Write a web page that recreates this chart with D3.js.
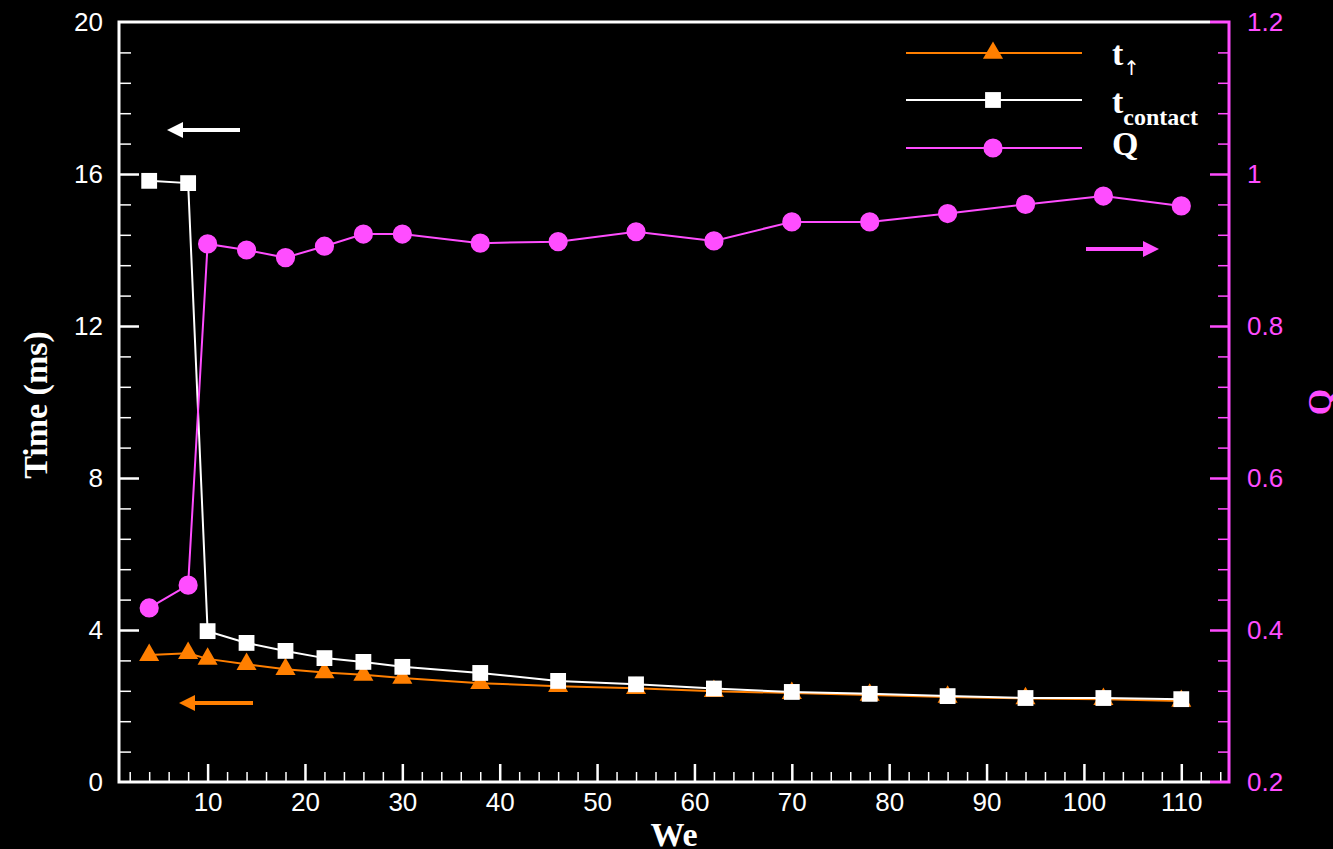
<!DOCTYPE html>
<head>
<meta charset="utf-8">
<style>
body { margin: 0; background: #000; }
.axis text { font-family: "Liberation Sans", Arial, sans-serif; font-size: 26px; }
.title { font-family: "Liberation Serif", "Times New Roman", serif; font-weight: bold; }
</style>
<script src="https://d3js.org/d3.v7.min.js"></script>
</head>
<body>
<svg class="chart" width="1333" height="849"></svg>
<script>

// Data.
var weValues = [4, 8, 10, 14, 18, 22, 26, 30, 38, 46, 54, 62, 70, 78, 86, 94, 102, 110];
var tUp = [3.34, 3.39, 3.24, 3.10, 2.97, 2.88, 2.82, 2.74, 2.60, 2.52, 2.47, 2.39, 2.34, 2.29, 2.24, 2.20, 2.18, 2.13];
var tContact = [15.82, 15.76, 3.97, 3.66, 3.45, 3.26, 3.16, 3.03, 2.87, 2.66, 2.57, 2.46, 2.37, 2.32, 2.26, 2.21, 2.21, 2.18];
var qValues = [0.429, 0.459, 0.908, 0.900, 0.890, 0.905, 0.921, 0.921, 0.909, 0.911, 0.924, 0.912, 0.937, 0.937, 0.948, 0.960, 0.971, 0.958];

var xTicks = [10, 20, 30, 40, 50, 60, 70, 80, 90, 100, 110];
var timeTicks = [0, 4, 8, 12, 16, 20];
var qTicks = [0.2, 0.4, 0.6, 0.8, 1, 1.2];
var qTickLabels = ["0.2", "0.4", "0.6", "0.8", "1", "1.2"];

/**
 * Draw the whole chart.
 */
function drawChart() {
  var orange = "#ff7f00", pink = "#ff4dff", white = "#ffffff";

  var svg = d3.select(".chart");
  var mLeft = 119, mRight = 1229, mTop = 22, mBottom = 782;

  var x = d3.scaleLinear().domain([0.9, 114.9]).range([mLeft, mRight]);
  var yT = d3.scaleLinear().domain([0, 20]).range([mBottom, mTop]);
  var yQ = d3.scaleLinear().domain([0.2, 1.2]).range([mBottom, mTop]);

  svg.append("rect").attr("width", 1333).attr("height", 849).attr("fill", "#000");

  // minor ticks, no labels
  function minor(axis, values, size, color) {
    return function(g) {
      g.call(axis.tickValues(values).tickSize(size).tickFormat(""));
      g.select(".domain").remove();
      g.selectAll(".tick line").attr("stroke", color).attr("stroke-width", 1.5);
    };
  }

  var xMinor = d3.range(2, 115, 2).filter(function(v) { return v % 10 != 0; });
  var tMinor = d3.range(0, 20.01, 0.8).filter(function(v) { return Math.abs(v / 4 - Math.round(v / 4)) > 1e-6; });
  var qMinor = d3.range(0.2, 1.2001, 0.04).filter(function(v) { return Math.abs(v / 0.2 - Math.round(v / 0.2)) > 1e-6; });

  svg.append("g").attr("transform", "translate(0," + mBottom + ")")
    .call(minor(d3.axisBottom(x), xMinor, -10, white));
  svg.append("g").attr("transform", "translate(" + mLeft + ",0)")
    .call(minor(d3.axisLeft(yT), tMinor, -12, white));
  svg.append("g").attr("transform", "translate(" + mRight + ",0)")
    .call(minor(d3.axisRight(yQ), qMinor, -11, pink));

  // major ticks with labels
  var gx = svg.append("g").attr("class", "axis").attr("transform", "translate(0," + mBottom + ")")
    .call(d3.axisBottom(x).tickValues(xTicks).tickSize(-18).tickPadding(11).tickFormat(d3.format("d")));
  var gl = svg.append("g").attr("class", "axis").attr("transform", "translate(" + mLeft + ",0)")
    .call(d3.axisLeft(yT).tickValues(timeTicks).tickSize(-20).tickPadding(16).tickFormat(d3.format("d")));
  var gr = svg.append("g").attr("class", "axis").attr("transform", "translate(" + mRight + ",0)")
    .call(d3.axisRight(yQ).tickValues(qTicks).tickSize(-19).tickPadding(18)
      .tickFormat(function(d, i) { return qTickLabels[i]; }));

  [gx, gl].forEach(function(g) {
    g.select(".domain").remove();
    g.selectAll(".tick line").attr("stroke", white).attr("stroke-width", 2.5);
    g.selectAll(".tick text").attr("fill", white);
  });
  gr.select(".domain").remove();
  gr.selectAll(".tick line").attr("stroke", pink).attr("stroke-width", 2.5);
  gr.selectAll(".tick text").attr("fill", pink);
  // no tick lines on the frame corners
  gl.selectAll(".tick").filter(function(d) { return d == 0 || d == 20; }).select("line").remove();
  gr.selectAll(".tick").filter(function(d) { return d == 0.2 || d == 1.2; }).select("line").remove();

  // frame: white on left/top/bottom, pink for the right axis
  var xq = mRight - 19;
  svg.append("path")
    .attr("d", "M" + xq + "," + mTop + "H" + mLeft + "V" + mBottom + "H" + xq)
    .attr("fill", "none").attr("stroke", white).attr("stroke-width", 3);
  svg.append("path")
    .attr("d", "M" + xq + "," + mTop + "H" + mRight + "V" + mBottom + "H" + xq)
    .attr("fill", "none").attr("stroke", pink).attr("stroke-width", 3);

  // series
  var series = [
    {values: tUp, y: yT, color: orange, symbol: d3.symbolTriangle, size: 175},
    {values: tContact, y: yT, color: white, symbol: d3.symbolSquare, size: 250},
    {values: qValues, y: yQ, color: pink, symbol: d3.symbolCircle, size: 290}
  ];

  series.forEach(function(s) {
    var pts = weValues.map(function(w, i) { return [w, s.values[i]]; });
    var line = d3.line()
      .x(function(d) { return x(d[0]); })
      .y(function(d) { return s.y(d[1]); });
    svg.append("path").datum(pts)
      .attr("d", line).attr("fill", "none")
      .attr("stroke", s.color).attr("stroke-width", 2);
    svg.append("g").selectAll("path").data(pts).enter().append("path")
      .attr("transform", function(d) { return "translate(" + x(d[0]) + "," + s.y(d[1]) + ")"; })
      .attr("d", d3.symbol().type(s.symbol).size(s.size))
      .attr("fill", s.color);
  });

  // legend
  var legY = [53, 100, 148];
  series.forEach(function(s, i) {
    svg.append("line").attr("x1", 906).attr("x2", 1082).attr("y1", legY[i]).attr("y2", legY[i])
      .attr("stroke", s.color).attr("stroke-width", 2);
    svg.append("path").attr("transform", "translate(993," + legY[i] + ")")
      .attr("d", d3.symbol().type(s.symbol).size(s.size)).attr("fill", s.color);
  });
  var lt = svg.append("text").attr("class", "title").attr("fill", white)
    .attr("x", 1112).attr("y", 65).attr("font-size", 34).text("t");
  lt.append("tspan").attr("font-family", "DejaVu Sans").attr("font-weight", "normal")
    .attr("font-size", 20).attr("dy", 10).text("\u2191");
  var lc = svg.append("text").attr("class", "title").attr("fill", white)
    .attr("x", 1112).attr("y", 113).attr("font-size", 34).text("t");
  lc.append("tspan").attr("font-size", 24).attr("dy", 12).text("contact");
  svg.append("text").attr("class", "title").attr("fill", white)
    .attr("x", 1112).attr("y", 155).attr("font-size", 34).text("Q");

  // axis titles
  svg.append("text").attr("class", "title").attr("fill", white).attr("font-size", 34)
    .attr("text-anchor", "middle").attr("x", 674).attr("y", 846).text("We");
  svg.append("text").attr("class", "title").attr("fill", white).attr("font-size", 34)
    .attr("text-anchor", "middle").attr("transform", "translate(47,405) rotate(-90)").text("Time (ms)");
  svg.append("text").attr("class", "title").attr("fill", pink).attr("font-size", 34)
    .attr("text-anchor", "middle").attr("transform", "translate(1331,402) rotate(-90)").text("Q");

  // direction arrows
  function arrow(x0, x1, y, color) {
    var dir = x1 > x0 ? 1 : -1, head = 16;
    svg.append("line").attr("x1", x0).attr("x2", x1 - dir * head).attr("y1", y).attr("y2", y)
      .attr("stroke", color).attr("stroke-width", 4);
    svg.append("path")
      .attr("d", "M" + x1 + "," + y + "L" + (x1 - dir * head) + "," + (y - 8) + "L" + (x1 - dir * head) + "," + (y + 8) + "Z")
      .attr("fill", color);
  }
  arrow(240, 167, 130, white);
  arrow(253, 179, 703, orange);
  arrow(1086, 1159, 249, pink);
}

drawChart();

</script>
</body>
